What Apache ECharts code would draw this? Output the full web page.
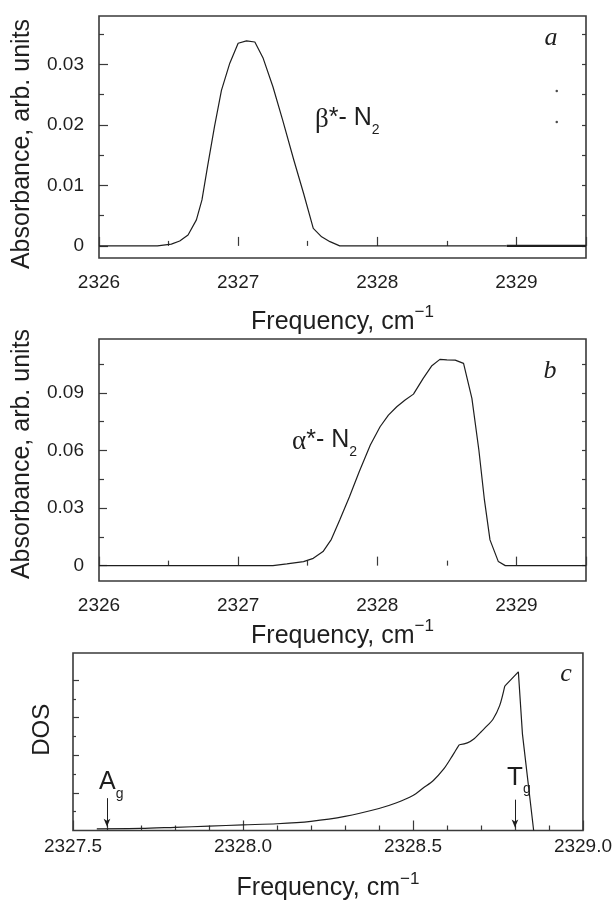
<!DOCTYPE html>
<html><head><meta charset="utf-8">
<script src="https://cdn.jsdelivr.net/npm/echarts@6/dist/echarts.min.js"></script>
<style>html,body{margin:0;padding:0;background:#fff}#c{width:615px;height:902px}</style>
</head><body><div id="c"></div>
<script>
// ---- data ----
const betaFreq = [2326.0, 2326.2, 2326.42, 2326.52, 2326.58, 2326.64, 2326.70, 2326.74, 2326.78, 2326.83, 2326.88, 2326.94, 2327.00, 2327.06, 2327.12, 2327.18, 2327.25, 2327.32, 2327.40, 2327.47, 2327.54, 2327.60, 2327.66, 2327.73, 2328.0, 2328.5, 2328.93];
const betaAbs  = [0, 0, 0, 0.0003, 0.0008, 0.0018, 0.0043, 0.0076, 0.0131, 0.0197, 0.0257, 0.0302, 0.0335, 0.0339, 0.0337, 0.0310, 0.0263, 0.0208, 0.0142, 0.0087, 0.0029, 0.0015, 0.0007, 0, 0, 0, 0];
const betaTailFreq = [2328.93, 2329.5];
const betaTailAbs = [0, 0];
const alphaFreq = [2326.0, 2327.0, 2327.25, 2327.35, 2327.47, 2327.54, 2327.61, 2327.67, 2327.73, 2327.80, 2327.87, 2327.95, 2328.02, 2328.08, 2328.14, 2328.20, 2328.26, 2328.33, 2328.39, 2328.45, 2328.50, 2328.56, 2328.62, 2328.68, 2328.73, 2328.77, 2328.81, 2328.87, 2328.92, 2329.2, 2329.5];
const alphaAbs  = [0, 0, 0, 0.0009, 0.0021, 0.0038, 0.0073, 0.0137, 0.0238, 0.0359, 0.0489, 0.0628, 0.0723, 0.0784, 0.0827, 0.0862, 0.0893, 0.0975, 0.1039, 0.1074, 0.1071, 0.1070, 0.1053, 0.0871, 0.0602, 0.0342, 0.0134, 0.0021, 0, 0, 0];
const dosFreq = [2327.57, 2327.70, 2327.80, 2327.90, 2328.00, 2328.10, 2328.20, 2328.30, 2328.40, 2328.45, 2328.50, 2328.53, 2328.56, 2328.59, 2328.61, 2328.625, 2328.636, 2328.66, 2328.68, 2328.70, 2328.72, 2328.735, 2328.755, 2328.77, 2328.81, 2328.822, 2328.855];
const dosVal  = [0.045, 0.055, 0.085, 0.115, 0.15, 0.18, 0.245, 0.375, 0.585, 0.73, 0.93, 1.13, 1.33, 1.63, 1.90, 2.12, 2.28, 2.33, 2.44, 2.62, 2.80, 2.95, 3.32, 3.84, 4.22, 2.57, 0];
const dosCusps = [16, 23];   // indices of the sharp corners in the DOS curve
const dotFreq = [2329.29, 2329.29];
const dotAbs  = [0.0256, 0.0205];
const arrowFreq = [2327.6, 2328.8];
const arrowTop = [0.86, 0.82];
const arrowTip = [0.1, 0.08];
const absLabelsA = [0, 0.01, 0.02, 0.03];
const absMinorA  = [0.005, 0.015, 0.025, 0.035];
const absLabelsB = [0, 0.03, 0.06, 0.09];
const absMinorB  = [0.015, 0.045, 0.075, 0.105];
const dosMajor = [1, 2, 3, 4];
const dosMinor = [0.5, 1.5, 2.5, 3.5];

const zip = (a, b) => a.map((v, i) => [v, b[i]]);
const INK = '#1e1e1e';
const FONT = 'Liberation Sans';

const chart = echarts.init(document.getElementById('c'), null, {renderer: 'canvas'});

const gridBase = {show: true, borderColor: '#3a3a3a', borderWidth: 1.6, backgroundColor: 'transparent'};
const grids = [
  Object.assign({left: 99, right: 29, top: 16, height: 242}, gridBase),
  Object.assign({left: 99, right: 29, top: 339, height: 242}, gridBase),
  Object.assign({left: 73, right: 29, top: 653, height: 180}, gridBase)
];

const freqName = {
  name: '{m|Frequency, cm}{sup|\u22121}',
  nameLocation: 'middle',
  nameTextStyle: {
    rich: {
      m: {fontFamily: FONT, fontSize: 25, color: INK, lineHeight: 36},
      sup: {fontFamily: FONT, fontSize: 17, color: INK, lineHeight: 17, verticalAlign: 'top'}
    }
  }
};
const tickLabel = {fontFamily: FONT, fontSize: 19, color: INK};

function xAB(gi, gap) {
  return Object.assign({
    type: 'value', gridIndex: gi, position: 'bottom', min: 2326, max: 2329.5, interval: 1,
    nameGap: gap,
    axisLine: {show: false},
    axisTick: {show: true, inside: true, length: 9, lineStyle: {color: '#3a3a3a', width: 1.2}},
    minorTick: {show: true, splitNumber: 2, length: 5, lineStyle: {color: '#3a3a3a', width: 1.2}},
    splitLine: {show: false}, minorSplitLine: {show: false},
    axisLabel: Object.assign({margin: 15, formatter: v => Number.isInteger(v) ? String(v) : '', showMaxLabel: false}, tickLabel)
  }, freqName);
}
function yTicks(gi, min, max, vals, len, pos, labels) {
  return {
    type: 'value', gridIndex: gi, position: pos, min: min, max: max,
    axisLine: {show: false}, splitLine: {show: false},
    axisTick: {show: true, inside: true, length: len, customValues: vals, lineStyle: {color: '#3a3a3a', width: 1.2}},
    axisLabel: labels ? Object.assign({show: true, margin: 15, customValues: vals}, tickLabel) : {show: false}
  };
}

const absName = (pad) => ({
  name: 'Absorbance, arb. units', nameLocation: 'middle', nameGap: 64,
  nameTextStyle: {fontFamily: FONT, fontSize: 25, color: INK, padding: pad}
});

const yAxes = [
  Object.assign(yTicks(0, -0.002, 0.038, absLabelsA, 9, 'left', true), absName([0, 14, 0, 0])),
  yTicks(0, -0.002, 0.038, absMinorA, 5, 'left', false),
  yTicks(0, -0.002, 0.038, absMinorA.concat(absLabelsA), 4, 'right', false),
  Object.assign(yTicks(1, -0.008, 0.118, absLabelsB, 8, 'left', true), absName([0, 0, 0, 12])),
  yTicks(1, -0.008, 0.118, absMinorB, 5, 'left', false),
  yTicks(1, -0.008, 0.118, absMinorB.concat(absLabelsB), 4, 'right', false),
  Object.assign(yTicks(2, 0, 4.72, dosMajor, 6, 'left', false), {
    name: 'DOS', nameLocation: 'middle', nameGap: 19,
    nameTextStyle: {fontFamily: FONT, fontSize: 24, color: INK, padding: [0, 0, 0, 24]}
  }),
  yTicks(2, 0, 4.72, dosMinor, 3, 'left', false)
];

const xAxes = [
  xAB(0, 46),
  xAB(1, 37),
  Object.assign({
    type: 'value', gridIndex: 2, position: 'bottom', min: 2327.5, max: 2329.0, interval: 0.5,
    nameGap: 40,
    axisLine: {show: false},
    axisTick: {show: true, inside: true, length: 10, lineStyle: {color: '#3a3a3a', width: 1.2}},
    minorTick: {show: true, splitNumber: 5, length: 5, lineStyle: {color: '#3a3a3a', width: 1.2}},
    splitLine: {show: false}, minorSplitLine: {show: false},
    axisLabel: Object.assign({margin: 7, showMinLabel: true, showMaxLabel: true, formatter: v => v.toFixed(1)}, tickLabel)
  }, freqName)
];

const lineS = (name, xi, yi, data, w, smooth) => ({
  name: name, type: 'line', xAxisIndex: xi, yAxisIndex: yi, data: data,
  showSymbol: false, symbol: 'none', smooth: smooth || false, animation: false,
  lineStyle: {color: INK, width: w || 1.2}, z: 3
});

const dosPts = zip(dosFreq, dosVal);
const dosSeg1 = lineS('DOS1', 2, 6, dosPts.slice(0, dosCusps[0] + 1), 1.2, 0.3);
const dosSeg2 = lineS('DOS2', 2, 6, dosPts.slice(dosCusps[0], dosCusps[1] + 1), 1.2, 0.3);
const dosSeg3 = lineS('DOS3', 2, 6, dosPts.slice(dosCusps[1]), 1.2, false);
dosSeg3.markLine = {
  silent: true, animation: false, symbol: ['none', 'arrow'], symbolSize: [5, 8],
  lineStyle: {color: INK, width: 1, type: 'solid'}, label: {show: false},
  data: arrowFreq.map((f, i) => [{coord: [f, arrowTop[i]]}, {coord: [f, arrowTip[i]]}])
};

const series = [
  lineS('beta', 0, 0, zip(betaFreq, betaAbs)),
  lineS('betaTail', 0, 0, zip(betaTailFreq, betaTailAbs), 2.2),
  {type: 'scatter', xAxisIndex: 0, yAxisIndex: 0, data: zip(dotFreq, dotAbs), symbolSize: 2.5,
   itemStyle: {color: INK}, animation: false, silent: true},
  lineS('alpha', 1, 3, zip(alphaFreq, alphaAbs)),
  dosSeg1, dosSeg2, dosSeg3
];

const subRich = (big) => ({
  g: {fontFamily: 'Liberation Serif', fontSize: 27, color: INK, lineHeight: 26, verticalAlign: 'top'},
  m: {fontFamily: FONT, fontSize: big, color: INK, lineHeight: 26, verticalAlign: 'top'},
  s: {fontFamily: FONT, fontSize: 14, color: INK, lineHeight: 14, verticalAlign: 'top', padding: [17, 0, 0, 0]}
});
const letter = (t, x, y) => ({type: 'text', x: x, y: y, silent: true,
  style: {text: t, fontFamily: 'Liberation Serif', fontStyle: 'italic', fontSize: 26, fill: INK, align: 'center', verticalAlign: 'middle'}});
const rtext = (t, x, y, big) => ({type: 'text', x: x, y: y, silent: true,
  style: {text: t, rich: subRich(big), fill: INK, align: 'left', verticalAlign: 'top'}});

chart.setOption({
  backgroundColor: '#fff',
  animation: false,
  grid: grids,
  xAxis: xAxes,
  yAxis: yAxes,
  series: series,
  graphic: [
    letter('a', 551, 38),
    letter('b', 550, 371),
    letter('c', 566, 674),
    rtext('{g|\u03b2}{m|*- N}{s|2}', 315, 106, 25),
    rtext('{g|\u03b1}{m|*- N}{s|2}', 292, 428, 25),
    rtext('{m|A}{s|g}', 99, 770, 25),
    rtext('{m|T}{s|g}', 507, 765, 26)
  ]
});
</script>
</body></html>
